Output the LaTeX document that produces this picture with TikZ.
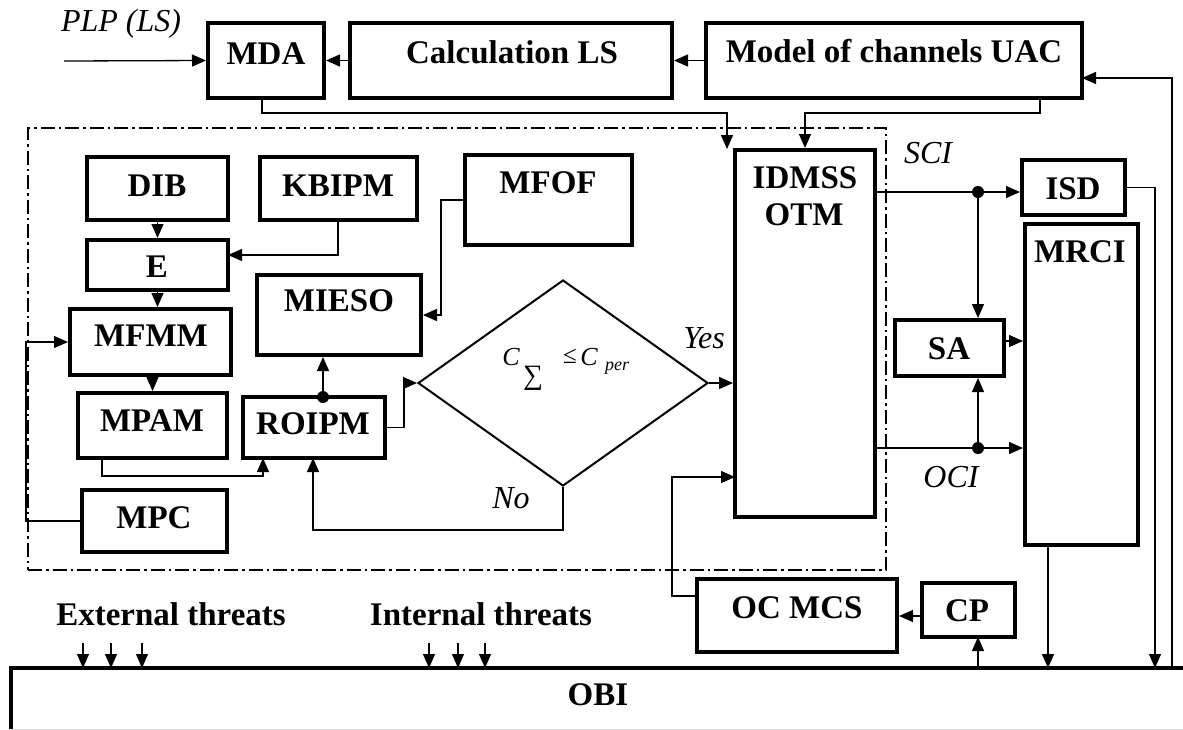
\documentclass[tikz,border=0pt]{standalone}
\usepackage{fontspec}
\setmainfont{Liberation Serif}
\usetikzlibrary{arrows.meta,shapes.geometric}
\newcommand\mkbx[5]{\node[box, minimum width={#4-#2}, minimum height={#5-#3}] (#1) at ({(#2+#4)/2},{(#3+#5)/2}) {};}
\tikzset{
  box/.style={draw, rectangle, line width=4pt, inner sep=0pt},
  lbl/.style={inner sep=0pt, font=\bfseries\fontsize{33}{36}\selectfont},
  ital/.style={inner sep=0pt, font=\itshape\fontsize{32}{36}\selectfont},
  conn/.style={line width=1.3pt},
  arr/.style={conn, -{Triangle[length=14pt,width=12pt]}},
  dotnode/.style={circle, fill=black, inner sep=0pt, minimum size=12pt},
  dashdotline/.style={line width=1.6pt, dash pattern=on 14pt off 4pt on 2.5pt off 4pt},
}
\begin{document}
\begin{tikzpicture}[x=1pt,y=-1pt]
\useasboundingbox (0,0) rectangle (1183,729);
% boxes
\mkbx{mda}{208}{23}{324}{98}
\mkbx{calc}{350}{23}{672}{98}
\mkbx{model}{706}{23}{1082}{98}
\mkbx{dib}{87}{157}{228}{220}
\mkbx{kbipm}{260}{157}{417}{220}
\mkbx{mfof}{465}{155}{632}{245}
\mkbx{e}{87}{240}{228}{290}
\mkbx{mieso}{257}{275}{421}{355}
\mkbx{mfmm}{70}{309}{231}{375}
\mkbx{mpam}{78}{393}{227}{458}
\mkbx{roipm}{243}{397}{385}{458}
\mkbx{mpc}{82}{490}{227}{552}
\mkbx{idm}{735}{150}{875}{517}
\mkbx{isd}{1022}{160}{1125}{215}
\mkbx{mrci}{1025}{224}{1138}{545}
\mkbx{sa}{895}{320}{1004}{376}
\mkbx{ocmcs}{697}{579}{897}{652}
\mkbx{cp}{922}{583}{1015}{637}
\node[diamond, draw, line width=2pt, inner sep=0pt, minimum width=290, minimum height=206] (dia) at (563,383) {};
% system boundary
\node[draw, dashdotline, inner sep=0pt, minimum width=858, minimum height=442] (sys) at (457,349) {};
% OBI
\node[inner sep=0pt, minimum width=1172, minimum height=61, anchor=north west] (obi) at (11,668) {};
\draw[line width=0.6pt, black!15] (obi.north east) -- (obi.south east) -- (obi.south west);
\draw[line width=4.5pt] (obi.south west) -- (obi.north west) -- (obi.north east);
% labels
\node[lbl] (mdaT) at (266,54) {MDA};
\node[lbl] (calcT) at (512,52) {Calculation LS};
\node[lbl] (modelT) at (894,51) {Model of channels UAC};
\node[lbl] (dibT) at (157,186) {DIB};
\node[lbl] (kbipmT) at (338,186) {KBIPM};
\node[lbl] (mfofT) at (548,183) {MFOF};
\node[lbl] (eT) at (157,267) {E};
\node[lbl] (miesoT) at (339,301) {MIESO};
\node[lbl] (mfmmT) at (151,336) {MFMM};
\node[lbl] (mpamT) at (152,421) {MPAM};
\node[lbl] (roipmT) at (313,424) {ROIPM};
\node[lbl] (mpcT) at (154,518) {MPC};
\node[lbl] (idmT1) at (805,178) {IDMSS};
\node[lbl] (idmT2) at (804,215) {OTM};
\node[lbl] (isdT) at (1073,189) {ISD};
\node[lbl] (mrciT) at (1080,252) {MRCI};
\node[lbl] (saT) at (949,349) {SA};
\node[lbl] (ocmcsT) at (797,608) {OC MCS};
\node[lbl] (cpT) at (967,611) {CP};
\node[lbl] (obiT) at (598,695) {OBI};
\node[lbl] (extT) at (171,614) {External threats};
\node[lbl] (intT) at (481,614) {Internal threats};
\node[ital] (plpT) at (121,24) {PLP (LS)};
\node[ital] (yesT) at (704,338) {Yes};
\node[ital] (noT) at (511,498) {No};
\node[ital] (sciT) at (928,153) {SCI};
\node[ital] (ociT) at (951,477) {OCI};
% formula
\node[inner sep=0pt, font=\itshape\fontsize{26}{28}\selectfont] (f1) at (511,357) {C};
\node[inner sep=0pt, font=\fontsize{28}{30}\selectfont] (f2) at (533,378) {∑};
\node[inner sep=0pt, font=\fontsize{25}{27}\selectfont] (f3) at (570,356) {≤};
\node[inner sep=0pt, font=\itshape\fontsize{26}{28}\selectfont] (f4) at (589,357) {C};
\node[inner sep=0pt, font=\itshape\fontsize{18}{20}\selectfont] (f5) at (617,368) {per};
% coordinates
\coordinate (plp0) at (64,61);
\coordinate (mdaIn) at (727,149);
\coordinate (rl) at (1172,400);
\coordinate (modelR) at (1082,78);
\coordinate (mdaB) at (262,98);
\coordinate (modelB) at (1040,98);
\coordinate (mpamB) at (102,458);
\coordinate (roipmA) at (263,458);
\coordinate (roipmB) at (313,458);
\coordinate (ocW) at (697,596);
\coordinate (idmW) at (735,477);
\coordinate (cpW) at (922,616);
\coordinate (cpB) at (978,637);
\coordinate (saE) at (1004,341);
\coordinate (isdR) at (1155,300);
\coordinate (mrB) at (1048,545);
\coordinate (eE) at (228,255);
\coordinate (kbB) at (338,220);
\coordinate (t1) at (83,643);
\coordinate (t2) at (111,643);
\coordinate (t3) at (142,643);
\coordinate (t4) at (429,643);
\coordinate (t5) at (458,643);
\coordinate (t6) at (485,643);
% dots
\node[dotnode] (d1) at (323,397) {};
\node[dotnode] (dsci) at (978,192) {};
\node[dotnode] (doci) at (978,448) {};
% connectors
\draw[arr] (plp0) -- (mda.west);
\draw[arr] (calc.west) -- (mda.east);
\draw[arr] (model.west) -- (calc.east);
\draw[arr] (rl |- obi.north) |- (modelR);
\draw[arr] (mdaB) -- ++(0,15) -| (mdaIn);
\draw[arr] (modelB) -- ++(0,15) -| (idm.north);
\draw[arr] (dib.south) -- (e.north);
\draw[arr] (kbB) |- (eE);
\draw[arr] (e.south) -- (e.south |- mfmm.north);
\draw[arr] (mpam.north |- mfmm.south) -- (mpam.north);
\draw[arr] (mfof.west) -- ++(-22,0) |- (mieso.east);
\draw[arr] (mpc.west) -- ++(-54,0) |- (mfmm.west);
\draw[arr] (mpamB) -- ++(0,18) -| (roipmA);
\draw[arr] (d1) -- (d1 |- mieso.south);
\draw[arr] (roipm.east) -- ++(17,0) |- (dia.west);
\draw[arr] (dia.east) -- (dia.east -| idm.west);
\draw[arr] (dia.south) -- ++(0,43) -| (roipmB);
\draw[arr] (ocW) -- ++(-25,0) |- (idmW);
\draw[arr] (cpW) -- (cpW -| ocmcs.east);
\draw[arr] (cpB |- obi.north) -- (cpB);
\draw[conn] (dsci -| idm.east) -- (dsci);
\draw[arr] (dsci) -- (dsci -| isd.west);
\draw[arr] (dsci) -- (dsci |- sa.north);
\draw[conn] (doci -| idm.east) -- (doci);
\draw[arr] (doci) -- (doci -| mrci.west);
\draw[arr] (doci) -- (doci |- sa.south);
\draw[arr] (saE) -- (saE -| mrci.west);
\draw[arr] (isd.east) -| (isdR |- obi.north);
\draw[arr] (mrB) -- (mrB |- obi.north);
\foreach \t in {t1,t2,t3,t4,t5,t6} \draw[arr] (\t) -- (\t |- obi.north);
\end{tikzpicture}
\end{document}
